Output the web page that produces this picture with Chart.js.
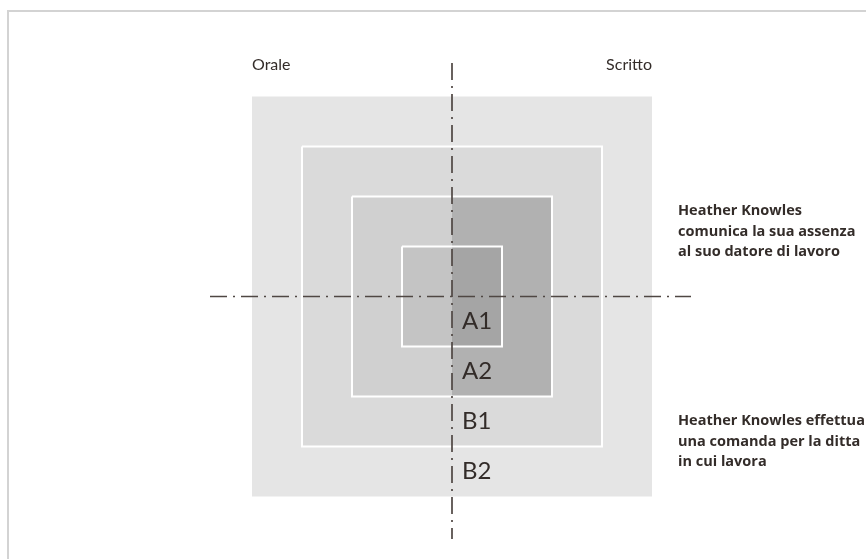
<!DOCTYPE html>
<html>
<head>
<meta charset="utf-8">
<script src="https://cdn.jsdelivr.net/npm/chart.js@4.4.0/dist/chart.umd.min.js"></script>
<style>
  html, body { margin: 0; padding: 0; background: #fff; }
  #wrap { position: relative; width: 866px; height: 559px; overflow: hidden; }
  #frame { position: absolute; left: 7px; top: 10px; width: 900px; height: 600px;
           border-top: 2px solid #d3d3d3; border-left: 2px solid #d3d3d3; }
  canvas { position: absolute; left: 0; top: 0; }
</style>
</head>
<body>
<div id="wrap">
  <div id="frame"></div>
  <canvas id="chart" width="866" height="559"></canvas>
</div>
<script>
// levels, outermost first; half size of each square in grid units
const levels = ['B2', 'B1', 'A2', 'A1'];
const halfSize = [4, 3, 2, 1];
// levels where the "Scritto" half is shaded darker
const writtenShaded = [false, false, true, true];
const columnLabels = ['Orale', 'Scritto'];
const notes = [
    ['Heather Knowles', 'comunica la sua assenza', 'al suo datore di lavoro'],
    ['Heather Knowles effettua', 'una comanda per la ditta', 'in cui lavora']
];
// level each note sits beside
const noteLevel = [1.3, -2.9];
const axisReach = [4.84, 4.8];   // horizontal, vertical (grid units)

const fillColors = ['#e5e5e5', '#dadada', '#d0d0d0', '#c4c4c4'];
const darkColors = ['#e5e5e5', '#dadada', '#b1b1b1', '#a5a5a5'];
const inkColor = '#332c29';
const axisColor = '#4f4743';

function square(h) {
    return [{x: -h, y: h}, {x: h, y: h}, {x: h, y: -h}, {x: -h, y: -h}, {x: -h, y: h}];
}
function rightHalf(h) {
    return [{x: 0, y: h}, {x: h, y: h}, {x: h, y: -h}, {x: 0, y: -h}, {x: 0, y: h}];
}

const datasets = [];
let ord = 100;
levels.forEach(function (lv, i) {
    const h = halfSize[i];
    datasets.push({
        label: lv, data: square(h), fill: 'shape', backgroundColor: fillColors[i],
        borderWidth: 0, borderColor: 'rgba(0,0,0,0)', pointRadius: 0, order: ord--
    });
    if (writtenShaded[i]) {
        datasets.push({
            label: lv + ' scritto', data: rightHalf(h), fill: 'shape', backgroundColor: darkColors[i],
            borderWidth: 0, borderColor: 'rgba(0,0,0,0)', pointRadius: 0, order: ord--
        });
    }
    if (i > 0) {
        datasets.push({
            label: lv + ' bordo', data: square(h), fill: false, borderColor: '#ffffff',
            borderWidth: 2, pointRadius: 0, order: ord--
        });
    }
});
const dash = [17, 6, 2, 6];
datasets.push({
    label: 'asse orizzontale', data: [{x: -axisReach[0], y: 0}, {x: axisReach[0] - 0.06, y: 0}],
    fill: false, borderColor: axisColor, borderWidth: 1.7, borderDash: dash, pointRadius: 0, order: ord--
});
datasets.push({
    label: 'asse verticale', data: [{x: 0, y: axisReach[1] - 0.13}, {x: 0, y: -axisReach[1] - 0.05}],
    fill: false, borderColor: axisColor, borderWidth: 1.7, borderDash: dash, pointRadius: 0, order: ord--
});

const textPlugin = {
    id: 'textPlugin',
    afterDatasetsDraw(chart) {
        const ctx = chart.ctx;
        const xs = chart.scales.x, ys = chart.scales.y;
        ctx.save();
        ctx.fillStyle = inkColor;
        ctx.textBaseline = 'middle';

        // level labels in the lower band of each ring
        ctx.font = '24px Lato, "Open Sans", sans-serif';
        ctx.textAlign = 'left';
        levels.forEach(function (lv, i) {
            ctx.fillText(lv, xs.getPixelForValue(0.2), ys.getPixelForValue(-(halfSize[i] - 0.5)));
        });

        // column labels above the outer square
        ctx.font = '16px Lato, "Open Sans", sans-serif';
        const top = ys.getPixelForValue(halfSize[0] + 0.63);
        ctx.textAlign = 'left';
        ctx.fillText(columnLabels[0], xs.getPixelForValue(-halfSize[0]), top);
        ctx.textAlign = 'right';
        ctx.fillText(columnLabels[1], xs.getPixelForValue(halfSize[0]), top);

        // notes on the right
        ctx.font = 'bold 14.5px "Open Sans", Lato, sans-serif';
        ctx.textAlign = 'left';
        notes.forEach(function (lines, n) {
            const cy = ys.getPixelForValue(noteLevel[n]);
            lines.forEach(function (t, k) {
                ctx.fillText(t, xs.getPixelForValue(halfSize[0] + 0.52), cy + (k - 1) * 20.5);
            });
        });
        ctx.restore();
    }
};

new Chart(document.getElementById('chart'), {
    type: 'line',
    data: { datasets },
    options: {
        responsive: false,
        animation: false,
        layout: { padding: 0 },
        elements: { line: { tension: 0 } },
        scales: {
            x: { type: 'linear', min: -9.04, max: 8.28, display: false },
            y: { type: 'linear', min: -5.25, max: 5.93, display: false }
        },
        plugins: {
            legend: { display: false },
            tooltip: { enabled: false }
        }
    },
    plugins: [textPlugin]
});
</script>
</body>
</html>
